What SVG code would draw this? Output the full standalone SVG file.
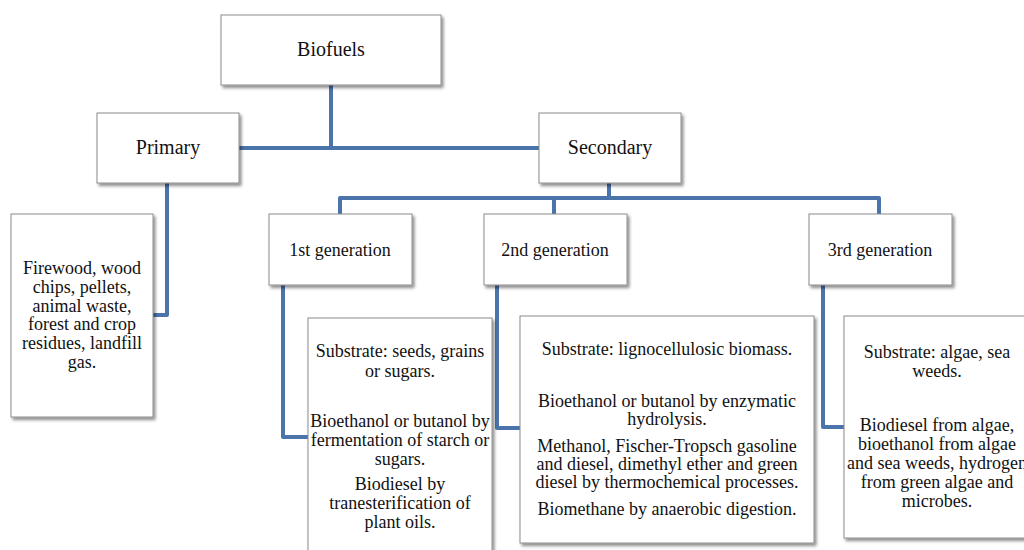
<svg xmlns="http://www.w3.org/2000/svg" width="1024" height="550" viewBox="0 0 1024 550">
  <style>
    .box { fill: #ffffff; stroke: #8c8c8c; stroke-width: 1; filter: url(#shadow); }
    .link { fill: none; stroke: #4a74aa; stroke-width: 4; stroke-linejoin: round; stroke-linecap: butt; }
    text { font-family: "Liberation Serif", "Times New Roman", serif; fill: #111111; text-anchor: middle; }
    .top { font-size: 20px; }
    .gen { font-size: 18px; }
    .body { font-size: 18px; }
  </style>
  <defs>
    <filter id="shadow" x="-10%" y="-10%" width="125%" height="125%">
      <feDropShadow dx="2" dy="2.5" stdDeviation="1.5" flood-color="#000000" flood-opacity="0.45"/>
    </filter>
  </defs>
  <rect width="1024" height="550" fill="#ffffff"/>

  <!-- tree connectors -->
  <g id="connectors">
    <path class="link" d="M331,85 V148"/>
    <path class="link" d="M239,148 H539"/>
    <path class="link" d="M167,183 V315 H153"/>
    <path class="link" d="M609,183 V198"/>
    <path class="link" d="M340,214 V198 H879 V214"/>
    <path class="link" d="M554,198 V214"/>
    <path class="link" d="M283,285 V437 H308"/>
    <path class="link" d="M497,285 V428 H520"/>
    <path class="link" d="M823,285 V427 H844"/>
  </g>

  <g id="biofuels">
    <rect class="box" x="221" y="15" width="220" height="70"/>
    <text class="top" x="331" y="56">Biofuels</text>
  </g>

  <g id="primary">
    <rect class="box" x="97" y="113" width="142" height="70"/>
    <text class="top" x="168" y="154">Primary</text>
  </g>

  <g id="secondary">
    <rect class="box" x="539" y="113" width="142" height="70"/>
    <text class="top" x="610" y="154">Secondary</text>
  </g>

  <g id="primary-sources">
    <rect class="box" x="11" y="214" width="142" height="203"/>
    <text class="body" x="82" y="274">Firewood, wood</text>
    <text class="body" x="82" y="293">chips, pellets,</text>
    <text class="body" x="82" y="312">animal waste,</text>
    <text class="body" x="82" y="330">forest and crop</text>
    <text class="body" x="82" y="349">residues, landfill</text>
    <text class="body" x="82" y="368">gas.</text>
  </g>

  <g id="gen1">
    <rect class="box" x="269" y="214" width="143" height="71"/>
    <text class="gen" x="340" y="256">1st generation</text>
  </g>

  <g id="gen2">
    <rect class="box" x="484" y="214" width="143" height="71"/>
    <text class="gen" x="555" y="256">2nd generation</text>
  </g>

  <g id="gen3">
    <rect class="box" x="809" y="214" width="143" height="71"/>
    <text class="gen" x="880" y="256">3rd generation</text>
  </g>

  <g id="gen1-detail">
    <rect class="box" x="308" y="318" width="184" height="250"/>
    <text class="body" x="400" y="357">Substrate: seeds, grains</text>
    <text class="body" x="400" y="377">or sugars.</text>
    <text class="body" x="400" y="427">Bioethanol or butanol by</text>
    <text class="body" x="400" y="446">fermentation of starch or</text>
    <text class="body" x="400" y="465">sugars.</text>
    <text class="body" x="400" y="490">Biodiesel by</text>
    <text class="body" x="400" y="509">tranesterification of</text>
    <text class="body" x="400" y="528">plant oils.</text>
  </g>

  <g id="gen2-detail">
    <rect class="box" x="520" y="316" width="294" height="227"/>
    <text class="body" x="667" y="355">Substrate: lignocellulosic biomass.</text>
    <text class="body" x="667" y="407">Bioethanol or butanol by enzymatic</text>
    <text class="body" x="667" y="425">hydrolysis.</text>
    <text class="body" x="667" y="452">Methanol, Fischer-Tropsch gasoline</text>
    <text class="body" x="667" y="470">and diesel, dimethyl ether and green</text>
    <text class="body" x="667" y="488">diesel by thermochemical processes.</text>
    <text class="body" x="667" y="515">Biomethane by anaerobic digestion.</text>
  </g>

  <g id="gen3-detail">
    <rect class="box" x="844" y="316" width="186" height="222"/>
    <text class="body" x="937" y="358">Substrate: algae, sea</text>
    <text class="body" x="937" y="377">weeds.</text>
    <text class="body" x="937" y="431">Biodiesel from algae,</text>
    <text class="body" x="937" y="450">bioethanol from algae</text>
    <text class="body" x="937" y="469">and sea weeds, hydrogen</text>
    <text class="body" x="937" y="488">from green algae and</text>
    <text class="body" x="937" y="507">microbes.</text>
  </g>
</svg>
